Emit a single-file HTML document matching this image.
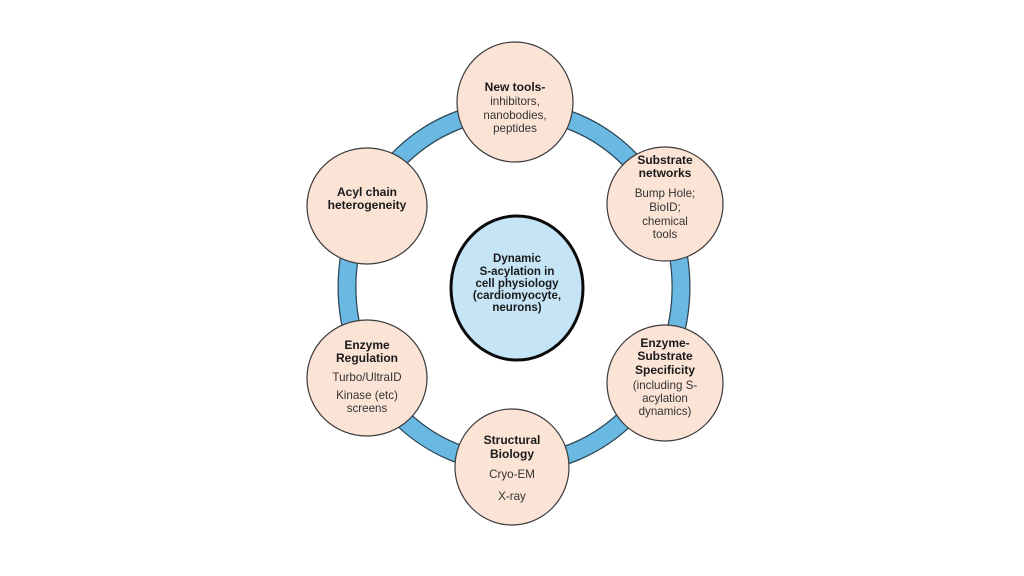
<!DOCTYPE html>
<html>
<head>
<meta charset="utf-8">
<style>
  html, body { margin:0; padding:0; background:#ffffff; }
  body { width:1024px; height:576px; overflow:hidden; }
  svg { display:block; }
  text { font-family: "Liberation Sans", Arial, sans-serif; font-size:11.6px; text-anchor:middle; }
  .b { font-weight:bold; fill:#1a1a1a; font-size:12px; }
  .r { fill:#333333; }
</style>
</head>
<body>
<svg width="1024" height="576" viewBox="0 0 1024 576" xmlns="http://www.w3.org/2000/svg">
  <rect width="1024" height="576" fill="#ffffff"/>
  <!-- ring -->
  <ellipse cx="514" cy="287" rx="167" ry="177" fill="none" stroke="#2c4656" stroke-width="19"/>
  <ellipse cx="514" cy="287" rx="167" ry="177" fill="none" stroke="#6ab9e3" stroke-width="16.5"/>

  <!-- center -->
  <ellipse cx="517" cy="288" rx="66" ry="72" fill="#c5e5f6" stroke="#0a0a0a" stroke-width="3"/>
  <text class="b" font-size="11.5" style="font-size:11.5px" x="517" y="262">Dynamic</text>
  <text class="b" style="font-size:11.5px" x="517" y="275">S-acylation in</text>
  <text class="b" style="font-size:11.5px" x="517" y="287">cell physiology</text>
  <text class="b" style="font-size:11.5px" x="517" y="299">(cardiomyocyte,</text>
  <text class="b" style="font-size:11.5px" x="517" y="311">neurons)</text>

  <g fill="#fbe3d6" stroke="#3a3a3a" stroke-width="1.2">
    <ellipse cx="515" cy="102" rx="58" ry="60"/>
    <ellipse cx="367" cy="206" rx="60" ry="58"/>
    <ellipse cx="665" cy="204" rx="58" ry="57"/>
    <ellipse cx="367" cy="378" rx="60" ry="58"/>
    <ellipse cx="665" cy="383" rx="58" ry="58"/>
    <ellipse cx="512" cy="467" rx="57" ry="58"/>
  </g>

  <!-- top -->
  <text class="b" x="515" y="91">New tools-</text>
  <text class="r" x="515" y="105">inhibitors,</text>
  <text class="r" x="515" y="119">nanobodies,</text>
  <text class="r" x="515" y="132">peptides</text>

  <!-- acyl -->
  <text class="b" x="367" y="196">Acyl chain</text>
  <text class="b" x="367" y="209">heterogeneity</text>

  <!-- substrate networks -->
  <text class="b" x="665" y="164">Substrate</text>
  <text class="b" x="665" y="177">networks</text>
  <text class="r" x="665" y="197">Bump Hole;</text>
  <text class="r" x="665" y="211">BioID;</text>
  <text class="r" x="665" y="225">chemical</text>
  <text class="r" x="665" y="238">tools</text>

  <!-- enzyme regulation -->
  <text class="b" x="367" y="349">Enzyme</text>
  <text class="b" x="367" y="362">Regulation</text>
  <text class="r" x="367" y="381">Turbo/UltraID</text>
  <text class="r" x="367" y="399">Kinase (etc)</text>
  <text class="r" x="367" y="412">screens</text>

  <!-- enzyme-substrate -->
  <text class="b" x="665" y="347">Enzyme-</text>
  <text class="b" x="665" y="360">Substrate</text>
  <text class="b" x="665" y="374">Specificity</text>
  <text class="r" x="665" y="389">(including S-</text>
  <text class="r" x="665" y="402">acylation</text>
  <text class="r" x="665" y="415">dynamics)</text>

  <!-- structural -->
  <text class="b" x="512" y="444">Structural</text>
  <text class="b" x="512" y="458">Biology</text>
  <text class="r" x="512" y="478">Cryo-EM</text>
  <text class="r" x="512" y="500">X-ray</text>
</svg>
</body>
</html>
